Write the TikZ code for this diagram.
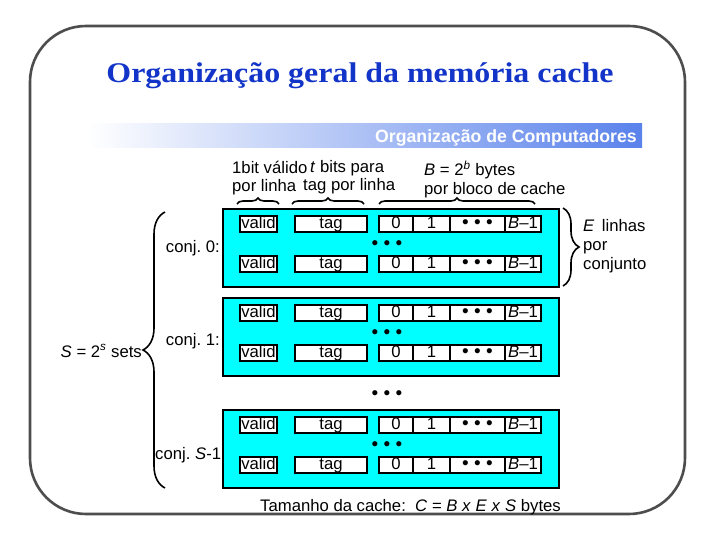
\documentclass[tikz,border=0pt]{standalone}
\usepackage{fontspec}
\setmainfont{Liberation Sans}
\newfontfamily\titlefont[FakeStretch=1.12]{Liberation Serif}
\usetikzlibrary{decorations.pathreplacing}
\definecolor{framegray}{RGB}{77,77,77}
\definecolor{titleblue}{RGB}{18,52,200}
\definecolor{bannerblue}{RGB}{90,130,235}
\definecolor{setcyan}{RGB}{0,255,255}
\frenchspacing
\newcommand{\bigdots}{{\fontsize{19}{19}\selectfont • • •}}
\newcommand{\cacherow}[2]{%
  \node[cellbox, minimum width=37pt] (#1v) at (258.5,#2) {valid};
  \node[cellbox, minimum width=72pt] (#1t) at (331,#2) {tag};
  \node[cellbox, minimum width=34pt] (#1c0) at (396,#2) {0};
  \node[cellbox, minimum width=37pt] (#1c1) at (431.5,#2) {1};
  \node[cellbox, minimum width=55pt] (#1cd) at (477.5,#2) {\bigdots};
  \node[cellbox, minimum width=36pt] (#1cb) at (523,#2) {\textit{B}–1};
}
\begin{document}
\begin{tikzpicture}[x=1pt,y=-1pt,
  every node/.style={inner sep=0pt, font=\fontsize{16.7}{19}\selectfont},
  cellbox/.style={draw, fill=white, line width=1.6pt, minimum height=16pt,
    text height=11pt, text depth=2pt, anchor=center},
  setbox/.style={draw, fill=setcyan, line width=2pt, minimum width=336pt,
    minimum height=78pt, anchor=north west},
  bracestyle/.style={decorate, decoration={brace, amplitude=#1}, line width=1.6pt},
  txt/.style={anchor=base west},
  dots/.style={anchor=center},
]
\useasboundingbox (0,0) rectangle (720,540);
\fill[white] (0,0) rectangle (720,540);

% frame
\draw[line width=2.6pt, framegray, rounded corners=56pt] (30,26) rectangle (685,514);

% title
\node[anchor=base, font=\titlefont\bfseries\fontsize{28.5}{32}\selectfont, text=titleblue]
  (title) at (360,83) {Organização geral da memória cache};

% banner
\shade[left color=white, right color=bannerblue] (88,124) rectangle (642,148);
\node[anchor=base east, font=\bfseries\fontsize{17.7}{20}\selectfont, text=white]
  (banner) at (637,142.5) {Organização de Computadores};

% header labels
\node[txt] (h1a) at (232,174) {1bit válido};
\node[txt] (h1b) at (232,192) {por linha};
\node[txt] (h2a) at (310,173) {\textit{t} bits para};
\node[txt] (h2b) at (303,191) {tag por linha};
\node[txt] (h3a) at (424,176) {\textit{B} = 2\textsuperscript{\textit{b}} bytes};
\node[txt] (h3b) at (424,195) {por bloco de cache};

% header braces
\draw[bracestyle=6pt] (237,204) -- (279,204);
\draw[bracestyle=6pt] (292,204) -- (364,204);
\draw[bracestyle=6pt] (379,204) -- (535,204);

% left labels
\node[anchor=base east] (cj0) at (220,252) {conj. 0:};
\node[anchor=base east] (cj1) at (220,345) {conj. 1:};
\node[anchor=base west] (cjS) at (155,459) {conj. \textit{S}-1:};
\node[anchor=base east] (Ssets) at (142,357) {\textit{S} = 2\textsuperscript{\textit{s}} sets};
\draw[bracestyle=22pt] (165,488) -- (165,212);

% sets
\node[setbox] (set0) at (222,208) {};
\node[setbox] (set1) at (222,297) {};
\node[setbox] (setS) at (222,409) {};

\cacherow{a}{224}
\cacherow{b}{264}
\node[dots] (d0) at (387,245) {\bigdots};
\cacherow{c}{313}
\cacherow{d}{353}
\node[dots] (d1) at (387,334) {\bigdots};
\node[dots] (dm) at (387,395) {\bigdots};
\cacherow{e}{425}
\cacherow{f}{465}
\node[dots] (d2) at (387,446) {\bigdots};

% right brace and label
\draw[bracestyle=16pt] (563,208) -- (563,286);
\node[txt] (E1) at (583,231) {\textit{E}\, linhas};
\node[txt] (E2) at (583,250) {por};
\node[txt] (E3) at (583,269) {conjunto};

% size formula
\node[txt] (size) at (260,511) {Tamanho da cache:\ \ \textit{C} = \textit{B} \textit{x} \textit{E} \textit{x} \textit{S} bytes};
\end{tikzpicture}
\end{document}
